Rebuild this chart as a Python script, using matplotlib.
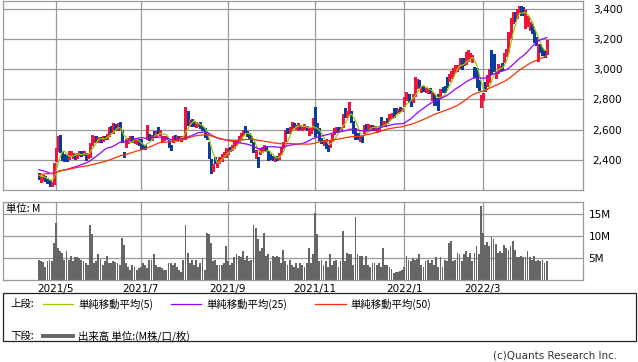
import numpy as np
import pandas as pd
import matplotlib
matplotlib.use("Agg")
import matplotlib.pyplot as plt
from matplotlib.patches import Rectangle
from matplotlib.lines import Line2D

# ---------------- data ----------------
holidays = ["2021-04-29", "2021-05-03", "2021-05-04", "2021-05-05", "2021-07-22",
            "2021-07-23", "2021-08-09", "2021-09-20", "2021-09-23", "2021-11-03",
            "2021-11-23", "2021-12-31", "2022-01-03", "2022-01-10", "2022-02-11",
            "2022-02-23", "2022-03-21"]
start_date = "2021-04-20"
end_date = "2022-04-13"

# closes before the first shown day (only used for the moving averages)
pre_close = [2170, 2185, 2200, 2210, 2195, 2220, 2235, 2250, 2240, 2260, 2270, 2255, 2280,
             2290, 2275, 2300, 2310, 2295, 2320, 2330, 2315, 2340, 2325, 2310, 2330,
             2375, 2360, 2380, 2390, 2370, 2355, 2365, 2345, 2350, 2335, 2340, 2320,
             2330, 2345, 2335, 2320, 2310, 2325, 2315, 2300, 2310, 2295, 2305, 2290]

open_ = [2300, 2265, 2275, 2290, 2275, 2260, 2235, 2250, 2400, 2470, 2545, 2450, 2425, 2420, 2410, 2440, 2420, 2430, 2415, 2440,
         2450, 2435, 2440, 2415, 2425, 2500, 2530, 2550, 2530, 2545, 2530, 2555, 2540, 2560, 2610, 2585, 2625, 2600, 2640, 2590,
         2445, 2490, 2520, 2530, 2545, 2520, 2515, 2530, 2505, 2495, 2490, 2545, 2560, 2540, 2580, 2565, 2610, 2570, 2530, 2535,
         2540, 2525, 2495, 2520, 2560, 2530, 2555, 2530, 2540, 2550, 2715, 2630, 2660, 2650, 2625, 2625, 2640, 2620, 2600, 2560,
         2510, 2400, 2340, 2410, 2360, 2385, 2400, 2420, 2430, 2440, 2480, 2470, 2480, 2500, 2525, 2540, 2570, 2610, 2580, 2570,
         2550, 2510, 2415, 2410, 2440, 2455, 2460, 2480, 2455, 2430, 2420, 2400, 2420, 2410, 2445, 2480, 2530, 2600, 2580, 2600,
         2640, 2610, 2600, 2625, 2605, 2610, 2620, 2585, 2580, 2610, 2690, 2630, 2600, 2540, 2505, 2530, 2490, 2490, 2530, 2575,
         2590, 2610, 2595, 2620, 2735, 2690, 2705, 2720, 2650, 2600, 2570, 2530, 2555, 2580, 2625, 2605, 2600, 2625, 2600, 2595,
         2595, 2670, 2625, 2630, 2670, 2665, 2680, 2735, 2735, 2715, 2745, 2725, 2760, 2800, 2830, 2795, 2790, 2830, 2880, 2920,
         2855, 2880, 2855, 2845, 2870, 2805, 2830, 2800, 2830, 2820, 2875, 2880, 2940, 2925, 2945, 2960, 2985, 2995, 3010, 3065,
         3060, 3040, 3060, 3070, 3050, 3010, 3000, 2920, 2800, 2810, 2880, 2890, 2920, 3090, 3070, 2950, 2980, 2990, 3030, 3050,
         3090, 3120, 3210, 3310, 3370, 3350, 3380, 3405, 3400, 3280, 3290, 3270, 3290, 3250, 3200, 3080, 3160, 3135, 3120, 3105]
high = [2310, 2285, 2300, 2295, 2280, 2265, 2255, 2380, 2480, 2555, 2565, 2460, 2440, 2430, 2455, 2460, 2445, 2440, 2445, 2460,
        2455, 2460, 2445, 2440, 2510, 2565, 2555, 2560, 2550, 2550, 2560, 2560, 2570, 2615, 2620, 2640, 2635, 2645, 2650, 2595,
        2450, 2540, 2545, 2555, 2555, 2540, 2535, 2535, 2535, 2500, 2495, 2630, 2570, 2565, 2590, 2590, 2615, 2595, 2555, 2555,
        2560, 2530, 2500, 2555, 2565, 2555, 2560, 2555, 2555, 2750, 2720, 2665, 2670, 2655, 2650, 2645, 2650, 2625, 2610, 2575,
        2515, 2405, 2375, 2420, 2400, 2420, 2440, 2450, 2475, 2475, 2485, 2495, 2515, 2525, 2560, 2580, 2600, 2625, 2590, 2575,
        2555, 2515, 2465, 2420, 2475, 2485, 2495, 2490, 2460, 2435, 2425, 2420, 2425, 2445, 2485, 2520, 2595, 2610, 2615, 2650,
        2645, 2630, 2640, 2630, 2625, 2635, 2625, 2615, 2610, 2675, 2750, 2640, 2610, 2545, 2530, 2535, 2495, 2530, 2570, 2610,
        2615, 2615, 2615, 2700, 2745, 2720, 2780, 2725, 2655, 2610, 2580, 2560, 2560, 2630, 2635, 2635, 2630, 2630, 2625, 2615,
        2620, 2680, 2655, 2655, 2675, 2700, 2710, 2740, 2745, 2735, 2750, 2745, 2815, 2845, 2835, 2800, 2835, 2945, 2935, 2925,
        2890, 2885, 2875, 2875, 2875, 2850, 2835, 2810, 2835, 2870, 2880, 2885, 2950, 2965, 2985, 3010, 3025, 3030, 3070, 3070,
        3070, 3110, 3125, 3105, 3090, 3015, 3005, 2925, 2830, 2840, 2915, 2960, 3000, 3125, 3100, 2990, 3035, 3020, 3040, 3105,
        3130, 3245, 3340, 3375, 3380, 3400, 3415, 3415, 3410, 3390, 3350, 3310, 3300, 3255, 3210, 3165, 3165, 3140, 3125, 3190]
low = [2275, 2250, 2265, 2260, 2245, 2225, 2225, 2240, 2395, 2460, 2450, 2400, 2390, 2390, 2405, 2425, 2410, 2405, 2410, 2430,
       2425, 2430, 2400, 2410, 2420, 2495, 2520, 2525, 2520, 2520, 2525, 2535, 2535, 2555, 2585, 2580, 2600, 2595, 2605, 2520,
       2415, 2485, 2510, 2520, 2520, 2510, 2505, 2495, 2470, 2470, 2470, 2540, 2530, 2530, 2555, 2560, 2575, 2565, 2525, 2530,
       2535, 2485, 2465, 2515, 2540, 2525, 2535, 2525, 2535, 2540, 2630, 2625, 2625, 2625, 2615, 2620, 2610, 2595, 2550, 2535,
       2410, 2310, 2325, 2380, 2355, 2380, 2395, 2415, 2420, 2435, 2455, 2465, 2475, 2495, 2520, 2535, 2565, 2585, 2555, 2540,
       2520, 2450, 2410, 2355, 2435, 2450, 2455, 2455, 2400, 2405, 2400, 2395, 2400, 2405, 2440, 2475, 2525, 2575, 2575, 2595,
       2615, 2605, 2595, 2605, 2600, 2605, 2595, 2565, 2575, 2605, 2560, 2580, 2530, 2510, 2500, 2475, 2455, 2485, 2525, 2570,
       2585, 2585, 2590, 2615, 2680, 2685, 2700, 2650, 2580, 2540, 2540, 2525, 2515, 2575, 2600, 2600, 2595, 2600, 2595, 2585,
       2590, 2620, 2620, 2625, 2645, 2660, 2675, 2685, 2710, 2710, 2720, 2720, 2755, 2795, 2785, 2755, 2785, 2825, 2875, 2880,
       2845, 2855, 2850, 2840, 2840, 2795, 2760, 2760, 2730, 2815, 2845, 2850, 2880, 2920, 2940, 2955, 2980, 2990, 3005, 3000,
       3025, 3035, 3055, 3065, 3045, 2945, 2880, 2860, 2750, 2795, 2855, 2885, 2915, 2965, 2990, 2940, 2975, 2985, 2995, 3045,
       3085, 3115, 3205, 3305, 3320, 3340, 3375, 3360, 3360, 3270, 3285, 3260, 3240, 3180, 3160, 3050, 3115, 3095, 3080, 3100]
close = [2285, 2280, 2290, 2270, 2255, 2245, 2250, 2370, 2470, 2540, 2460, 2415, 2400, 2405, 2440, 2455, 2435, 2410, 2440, 2450,
         2430, 2455, 2415, 2430, 2500, 2550, 2545, 2530, 2545, 2530, 2550, 2540, 2560, 2600, 2590, 2620, 2605, 2630, 2615, 2530,
         2425, 2535, 2540, 2550, 2525, 2530, 2530, 2500, 2480, 2480, 2475, 2600, 2535, 2560, 2560, 2580, 2580, 2590, 2550, 2550,
         2555, 2490, 2475, 2550, 2545, 2550, 2540, 2550, 2550, 2720, 2650, 2660, 2630, 2630, 2645, 2640, 2615, 2600, 2560, 2540,
         2420, 2330, 2370, 2390, 2395, 2415, 2430, 2445, 2460, 2470, 2465, 2490, 2505, 2520, 2555, 2575, 2595, 2590, 2560, 2545,
         2525, 2455, 2460, 2370, 2470, 2480, 2490, 2460, 2420, 2410, 2405, 2415, 2405, 2440, 2480, 2515, 2580, 2580, 2605, 2640,
         2620, 2625, 2625, 2610, 2620, 2630, 2600, 2610, 2605, 2660, 2580, 2590, 2545, 2515, 2525, 2490, 2465, 2525, 2565, 2600,
         2610, 2590, 2610, 2690, 2690, 2710, 2760, 2660, 2600, 2560, 2545, 2550, 2530, 2615, 2605, 2625, 2620, 2605, 2620, 2610,
         2615, 2630, 2650, 2650, 2650, 2690, 2700, 2690, 2715, 2730, 2725, 2740, 2810, 2830, 2790, 2770, 2830, 2900, 2920, 2890,
         2880, 2860, 2870, 2870, 2845, 2845, 2780, 2775, 2800, 2865, 2850, 2855, 2890, 2960, 2980, 3005, 3020, 3025, 3060, 3015,
         3030, 3080, 3100, 3095, 3080, 2960, 2900, 2870, 2820, 2830, 2860, 2950, 2960, 2985, 3010, 2985, 3020, 3010, 3000, 3095,
         3125, 3230, 3330, 3360, 3330, 3390, 3400, 3370, 3370, 3340, 3330, 3300, 3250, 3190, 3165, 3150, 3120, 3100, 3085, 3170]
volume = [4.5, 4.4, 4.0, 2.9, 4.4, 4.5, 4.4, 8.4, 12.9, 7.2, 6.5, 6.1, 4.6, 6.6, 4.6, 5.4, 4.2, 5.1, 5.1, 4.9,
          4.6, 4.2, 3.9, 3.4, 12.4, 10.3, 3.9, 4.2, 5.8, 4.8, 3.4, 4.2, 5.4, 3.9, 3.9, 4.2, 4.1, 3.9, 3.4, 9.5,
          8.0, 3.9, 3.0, 2.3, 3.4, 3.0, 2.3, 2.7, 3.0, 3.9, 3.3, 2.7, 4.6, 4.6, 5.8, 3.4, 3.0, 3.0, 2.8, 2.3,
          2.3, 3.9, 3.9, 3.4, 3.9, 3.0, 2.3, 1.9, 4.6, 12.4, 6.1, 3.9, 4.6, 3.4, 4.6, 3.0, 3.9, 4.9, 2.3, 10.6,
          10.4, 8.4, 4.2, 4.6, 3.4, 3.4, 3.4, 3.9, 7.6, 4.2, 3.4, 3.9, 5.1, 5.8, 5.4, 5.1, 6.6, 4.6, 5.4, 4.2,
          4.6, 12.5, 11.8, 9.2, 6.5, 7.2, 10.6, 5.4, 5.8, 4.2, 5.4, 5.1, 5.4, 5.1, 3.9, 6.8, 4.2, 3.4, 4.6, 3.4,
          3.0, 3.9, 2.7, 3.9, 3.4, 3.0, 3.9, 7.2, 3.9, 5.8, 15.2, 10.3, 4.2, 4.6, 3.4, 4.2, 3.0, 5.8, 3.4, 4.2,
          4.6, 3.0, 4.2, 11.1, 4.2, 6.1, 5.9, 5.8, 3.4, 14.3, 5.8, 5.4, 5.4, 3.4, 5.4, 3.4, 3.0, 3.9, 3.9, 3.4,
          3.9, 3.0, 7.2, 3.4, 3.4, 3.0, 2.5, 1.6, 1.9, 1.9, 2.1, 2.3, 3.0, 5.4, 4.6, 4.2, 4.9, 4.6, 4.8, 5.8,
          3.4, 3.0, 4.2, 4.6, 3.8, 4.6, 3.4, 5.1, 3.0, 5.1, 3.0, 4.6, 4.2, 8.4, 8.9, 4.2, 4.6, 6.1, 5.8, 4.2,
          5.8, 6.5, 5.1, 6.1, 4.2, 6.1, 7.7, 5.8, 16.6, 10.6, 8.0, 8.6, 7.7, 9.6, 9.2, 8.2, 6.1, 6.6, 6.1, 8.0,
          7.2, 6.8, 7.7, 8.8, 6.8, 5.1, 5.1, 5.4, 5.1, 5.1, 6.6, 5.1, 4.6, 5.4, 4.2, 4.6, 4.2, 4.6, 3.9, 4.2]

price_ticks = [2400, 2600, 2800, 3000, 3200, 3400]
vol_ticks = [5, 10, 15]
vol_tick_labels = ["5M", "10M", "15M"]
label_months = [1, 3, 5, 7, 9, 11]
legend_labels = ["単純移動平均(5)", "単純移動平均(25)", "単純移動平均(50)"]
volume_legend = "出来高 単位:(M株/口/枚)"

# ---------------- styling ----------------
W, H = 638, 362
JP = ["Noto Sans CJK JP", "DejaVu Sans"]
UP = "#f0143c"
DOWN = "#0a3c9c"
MA_COLORS = ["#99cc00", "#9900ff", "#ff3300"]
GRID = "#999999"
FS = 7.5

def fx(x):
    return x / W

def fy(y):
    return 1 - y / H

N = len(close)
dates = pd.bdate_range(start_date, end_date, freq="C", holidays=holidays)[:N]
x = np.arange(N)
O = np.array(open_, float)
Hh = np.array(high, float)
L = np.array(low, float)
C = np.array(close, float)
V = np.array(volume, float)

full = pd.Series(list(pre_close) + list(close), dtype=float)
mas = [full.rolling(n).mean().values[-N:] for n in (5, 25, 50)]

# month ticks
tick_pos, tick_lab = [], []
for i in range(1, N):
    if dates[i].month != dates[i - 1].month and dates[i].month in label_months:
        tick_pos.append(i)
        tick_lab.append(f"{dates[i].year}/{dates[i].month}")

fig = plt.figure(figsize=(W / 100, H / 100), dpi=100)
fig.patch.set_facecolor("white")

xlim = (-16.9, 256.1)

# price panel
ax1 = fig.add_axes([fx(3), fy(190), fx(583) - fx(3), (190 - 1) / H])
ax1.set_xlim(*xlim)
ax1.set_ylim(2200, 3450)
for p in price_ticks:
    ax1.axhline(p, color=GRID, lw=0.9, zorder=0)
for t in tick_pos:
    ax1.axvline(t, color=GRID, lw=0.9, zorder=0)
cols = np.where(C >= O, UP, DOWN)
ax1.vlines(x, L, Hh, colors=cols, lw=0.9, zorder=2, antialiased=False)
ax1.bar(x, np.maximum(np.abs(C - O), 4), bottom=np.minimum(O, C), width=0.9,
        color=cols, lw=0, zorder=2, antialiased=False)
for ma, c in zip(mas, MA_COLORS):
    ax1.plot(x, ma, color=c, lw=0.9, zorder=3)
ax1.yaxis.tick_right()
ax1.set_yticks(price_ticks)
ax1.set_yticklabels([f"{p:,}" for p in price_ticks], fontsize=FS)
ax1.set_xticks([])
ax1.tick_params(axis="y", length=0, pad=7)
for s in ax1.spines.values():
    s.set_color(GRID)
    s.set_linewidth(0.9)

# volume panel
ax2 = fig.add_axes([fx(3), fy(280), fx(583) - fx(3), 78 / H])
ax2.set_xlim(*xlim)
ax2.set_ylim(0, 17.6)
for v in vol_ticks:
    ax2.axhline(v, color=GRID, lw=0.9, zorder=0)
for t in tick_pos:
    ax2.axvline(t, color=GRID, lw=0.9, zorder=0)
ax2.bar(x, V, width=0.85, color="#666666", lw=0, zorder=2, antialiased=False)
ax2.yaxis.tick_right()
ax2.set_yticks(vol_ticks)
ax2.set_yticklabels(vol_tick_labels, fontsize=FS)
ax2.set_xticks(tick_pos)
ax2.set_xticklabels(tick_lab, fontsize=FS)
ax2.tick_params(axis="both", length=0)
ax2.tick_params(axis="y", pad=4)
ax2.tick_params(axis="x", pad=3)
for s in ax2.spines.values():
    s.set_color(GRID)
    s.set_linewidth(0.9)
fig.text(fx(6), fy(209), "単位: M", fontsize=FS, family=JP, va="center", ha="left")

# legend box
fig.add_artist(Rectangle((fx(3), fy(341)), fx(636) - fx(3), (341 - 293) / H,
                         transform=fig.transFigure, fill=False, ec="#222222", lw=0.9))
fig.text(fx(10), fy(304), "上段:", fontsize=FS, family=JP, va="center")
seg_x = [(43, 73, 78), (171, 201, 206), (315, 346, 350)]
for (x0, x1, tx), c, lab in zip(seg_x, MA_COLORS, legend_labels):
    fig.add_artist(Line2D([fx(x0), fx(x1)], [fy(304), fy(304)], color=c, lw=0.9,
                          transform=fig.transFigure))
    fig.text(fx(tx), fy(304), lab, fontsize=FS, family=JP, va="center")
fig.text(fx(10), fy(336), "下段:", fontsize=FS, family=JP, va="center")
fig.add_artist(Line2D([fx(43), fx(73)], [fy(336), fy(336)], color="#666666", lw=2.8,
                      transform=fig.transFigure))
fig.text(fx(78), fy(336), volume_legend, fontsize=FS, family=JP, va="center")

fig.text(fx(617), fy(356), "(c)Quants Research Inc.", fontsize=FS, ha="right",
         va="center", color="#333333")

fig.savefig("out.png", dpi=100, facecolor="white")
